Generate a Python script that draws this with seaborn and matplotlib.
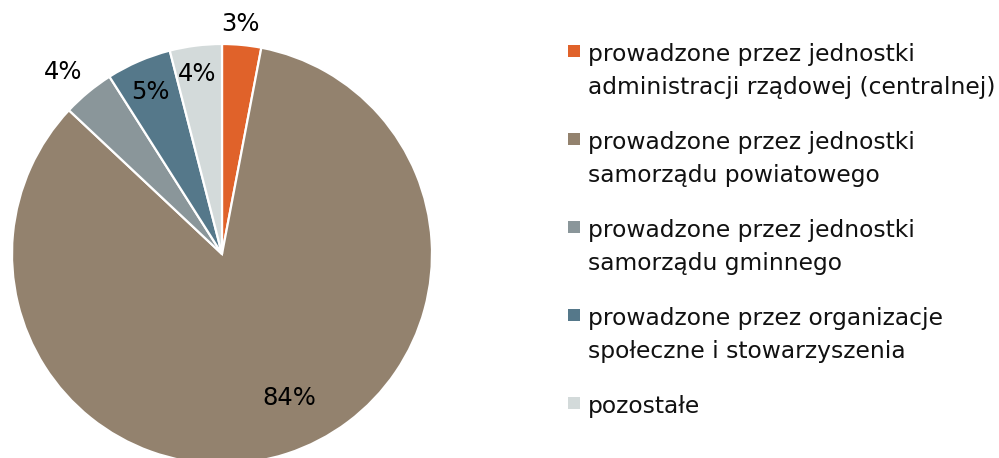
import numpy as np
import matplotlib
matplotlib.use("Agg")
import matplotlib.pyplot as plt
from matplotlib.patches import Rectangle
import seaborn as sns

categories = [
    "prowadzone przez jednostki\nadministracji rządowej (centralnej)",
    "prowadzone przez jednostki\nsamorządu powiatowego",
    "prowadzone przez jednostki\nsamorządu gminnego",
    "prowadzone przez organizacje\nspołeczne i stowarzyszenia",
    "pozostałe",
]
values = [3, 84, 4, 5, 4]
labels = ["3%", "84%", "4%", "5%", "4%"]
colors = ["#E0622A", "#93826E", "#8A969A", "#55788A", "#D3DADA"]
label_radius = [1.10, 0.757, 1.149, 0.842, 0.863]
label_shift = [0.7, 6.9, 1.6, 0.6, 0.7]

sns.set_theme(style="white")
plt.rcParams["font.family"] = ["DejaVu Sans"]
palette = sns.color_palette(colors)

W, H = 999, 458
fig = plt.figure(figsize=(W / 100, H / 100), dpi=100)
R = 210
cx, cy = 222, 254
ax = fig.add_axes([(cx - R) / W, (H - (cy + R)) / H, 2 * R / W, 2 * R / H])
wedges, _ = ax.pie(values, colors=palette, startangle=90, counterclock=False,
                   wedgeprops=dict(edgecolor="white", linewidth=1.6))
ax.set_xlim(-1, 1)
ax.set_ylim(-1, 1)
ax.set_aspect("equal")
ax.axis("off")
for w in wedges:
    w.set_clip_on(False)

for w, lab, r, s in zip(wedges, labels, label_radius, label_shift):
    ang = np.deg2rad((w.theta1 + w.theta2) / 2 + s)
    ax.text(r * np.cos(ang), r * np.sin(ang), lab, ha="center", va="center",
            fontsize=17.5, color="black", clip_on=False)

# legend
base0, step, line_gap = 61, 88, 33
for i, (cat, col) in enumerate(zip(categories, palette)):
    yb = base0 + i * step
    fig.patches.append(Rectangle((568 / W, (H - yb + 4) / H), 12 / W, 12 / H,
                                 transform=fig.transFigure, facecolor=col,
                                 edgecolor="none"))
    for j, line in enumerate(cat.split("\n")):
        fig.text(588 / W, (H - yb - j * line_gap) / H, line, ha="left",
                 va="baseline", fontsize=16.8, color="#111111")

fig.savefig("out.png", dpi=100)
